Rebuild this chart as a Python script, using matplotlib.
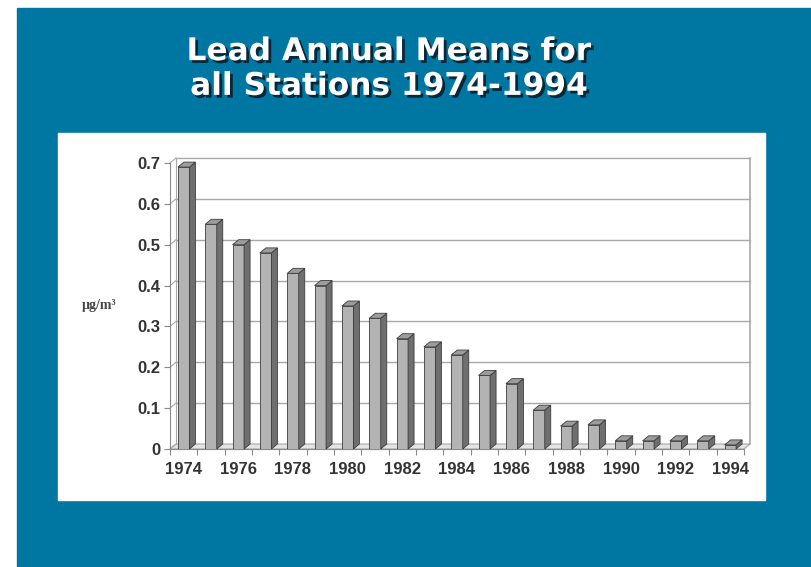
import matplotlib
matplotlib.use("Agg")
import matplotlib.pyplot as plt
import matplotlib.patheffects as pe
from matplotlib.patches import Rectangle, Polygon

years = list(range(1974, 1995))
lead = [0.69, 0.55, 0.50, 0.48, 0.43, 0.40, 0.35, 0.32, 0.27, 0.25, 0.23,
        0.18, 0.16, 0.095, 0.056, 0.059, 0.02, 0.02, 0.02, 0.02, 0.01]
yticks = [0, 0.1, 0.2, 0.3, 0.4, 0.5, 0.6, 0.7]
title = "Lead Annual Means for\nall Stations 1974-1994"

blue = "#0077a2"
front_c = "#b3b3b3"
side_c = "#6f6f6f"
top_c = "#9c9c9c"
edge_c = "#3c3c3c"
grid_c = "#a8a8a8"

W, H = 812, 567
fig = plt.figure(figsize=(W / 100, H / 100), dpi=100)
fig.patch.set_facecolor("white")

# blue backdrop and white chart panel
fig.add_artist(Rectangle((17 / W, 0), 1 - 17 / W, (H - 8) / H,
                         transform=fig.transFigure, color=blue, zorder=0))
fig.add_artist(Rectangle((58 / W, 1 - 500 / H), (765 - 58) / W, (500 - 133) / H,
                         transform=fig.transFigure, color="white", zorder=0))

fig.text(389 / W, 1 - 69 / H, title, ha="center", va="center", color="white",
         fontsize=22.5, fontweight="bold", family="DejaVu Sans", linespacing=1.25,
         path_effects=[pe.SimplePatchShadow(offset=(2, -2), shadow_rgbFace="#0a1a28", alpha=0.85),
                       pe.Normal()])

left, right, bottom, top = 170, 744, 449, 163
ax = fig.add_axes([left / W, 1 - bottom / H, (right - left) / W, (bottom - top) / H])
ax.set_facecolor("none")
n = len(years)
ax.set_xlim(-0.5, n - 0.5)
ax.set_ylim(0, 0.7)

# pseudo-3d depth in data units
dx = 6 / ((right - left) / n)
dy = 5 / ((bottom - top) / 0.7)

# back wall, floor and gridlines
ax.add_patch(Polygon([(-0.5, 0), (n - 0.5, 0), (n - 0.5 + dx, dy), (-0.5 + dx, dy)],
                     closed=True, facecolor="#e4e4e4", edgecolor=grid_c, lw=0.8,
                     clip_on=False, zorder=1))
for v in yticks[1:]:
    ax.plot([-0.5 + dx, n - 0.5 + dx], [v + dy, v + dy], color=grid_c, lw=1.0,
            clip_on=False, zorder=1)
for v in yticks:
    ax.plot([-0.5, -0.5 + dx], [v, v + dy], color=grid_c, lw=0.8,
            clip_on=False, zorder=1)
ax.plot([-0.5 + dx, -0.5 + dx], [dy, 0.7 + dy], color=grid_c, lw=0.8, clip_on=False, zorder=1)
ax.plot([n - 0.5 + dx, n - 0.5 + dx], [dy, 0.7 + dy], color=grid_c, lw=1.2, clip_on=False, zorder=1)

# bars
bw = 0.42
xs = list(range(n))
ax.bar(xs, lead, width=bw, color=front_c, edgecolor=edge_c, linewidth=0.6, zorder=3)
for x, v in zip(xs, lead):
    r = x + bw / 2
    l = x - bw / 2
    ax.add_patch(Polygon([(r, 0), (r + dx, dy), (r + dx, v + dy), (r, v)], closed=True,
                         facecolor=side_c, edgecolor=edge_c, lw=0.6, zorder=3, clip_on=False))
    ax.add_patch(Polygon([(l, v), (r, v), (r + dx, v + dy), (l + dx, v + dy)], closed=True,
                         facecolor=top_c, edgecolor=edge_c, lw=0.6, zorder=3, clip_on=False))

for s in ["top", "right"]:
    ax.spines[s].set_visible(False)
for s in ["left", "bottom"]:
    ax.spines[s].set_color("#8a8a8a")
    ax.spines[s].set_linewidth(0.8)

tick_font = dict(family="Liberation Sans", fontweight="bold", fontsize=12, color="#333333")
ax.set_yticks(yticks)
ax.set_yticklabels([f"{v:g}" for v in yticks], **tick_font)
ax.set_xticks([x - 0.5 for x in range(n + 1)])
ax.set_xticklabels([])
ax.set_xticks(xs[::2], minor=True)
ax.set_xticklabels([str(y) for y in years[::2]], minor=True, **tick_font)
ax.tick_params(axis="x", which="minor", length=0, pad=9)
ax.tick_params(axis="x", which="major", length=4, color="#8a8a8a")
ax.tick_params(axis="y", length=4, color="#8a8a8a", pad=3)

fig.text(99 / W, 1 - 306 / H, "µg/m³", ha="center", va="center", family="Liberation Serif",
         fontsize=10, fontweight="bold", color="#444444")

fig.savefig("out.png", dpi=100)
